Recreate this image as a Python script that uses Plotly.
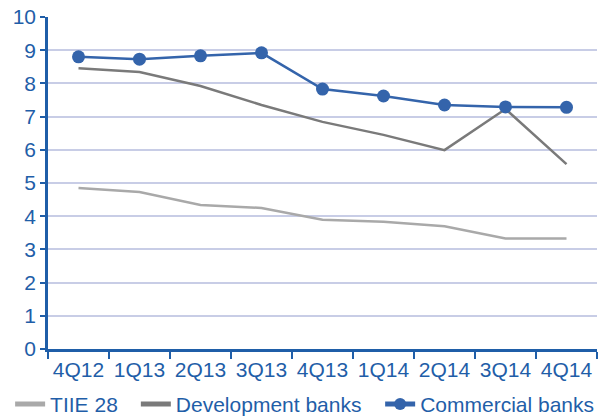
import plotly.graph_objects as go

quarters = ["4Q12", "1Q13", "2Q13", "3Q13", "4Q13", "1Q14", "2Q14", "3Q14", "4Q14"]
tiie_28 = [4.85, 4.73, 4.34, 4.25, 3.89, 3.83, 3.70, 3.33, 3.33]
development_banks = [8.46, 8.34, 7.92, 7.35, 6.84, 6.45, 5.99, 7.23, 5.57]
commercial_banks = [8.80, 8.73, 8.83, 8.92, 7.83, 7.62, 7.35, 7.29, 7.28]

blue = "#1f5ea8"
fig = go.Figure()
fig.add_trace(go.Scatter(x=quarters, y=tiie_28, name="TIIE 28", mode="lines",
                         line=dict(color="#a9a9a9", width=2.5), legend="legend"))
fig.add_trace(go.Scatter(x=quarters, y=development_banks, name="Development banks", mode="lines",
                         line=dict(color="#7a7a7a", width=2.5), legend="legend2"))
fig.add_trace(go.Scatter(x=quarters, y=commercial_banks, name="Commercial banks", mode="lines+markers",
                         line=dict(color="#3464ab", width=2.5),
                         marker=dict(size=13, color="#3464ab"), legend="legend3"))

def legend_at(x):
    return dict(orientation="h", x=x, xanchor="left", y=-0.105, yanchor="top",
                font=dict(size=21, color=blue), itemsizing="constant",
                bgcolor="rgba(0,0,0,0)")

fig.update_layout(
    width=598, height=419,
    margin=dict(l=48, r=1, t=17, b=70, autoexpand=False),
    paper_bgcolor="white", plot_bgcolor="white",
    font=dict(family="Liberation Sans, Arial, sans-serif", size=21, color=blue),
    showlegend=True,
    legend=legend_at(-0.069),
    legend2=legend_at(0.160),
    legend3=legend_at(0.605),
)
fig.update_xaxes(
    type="category", range=[-0.5, 8.5],
    showline=True, linecolor=blue, linewidth=2.5,
    ticks="outside", tickcolor=blue, ticklen=7, tickwidth=2,
    tickson="boundaries", showgrid=False, tickangle=0,
    tickfont=dict(size=21, color=blue),
)
fig.update_yaxes(
    range=[0, 10], dtick=1,
    showline=True, linecolor=blue, linewidth=2.5,
    ticks="outside", tickcolor=blue, ticklen=5, tickwidth=2,
    showgrid=True, gridcolor="#c8cde6", gridwidth=1.5,
    zeroline=False,
    tickfont=dict(size=21, color=blue),
)

fig.write_html("out.html")
